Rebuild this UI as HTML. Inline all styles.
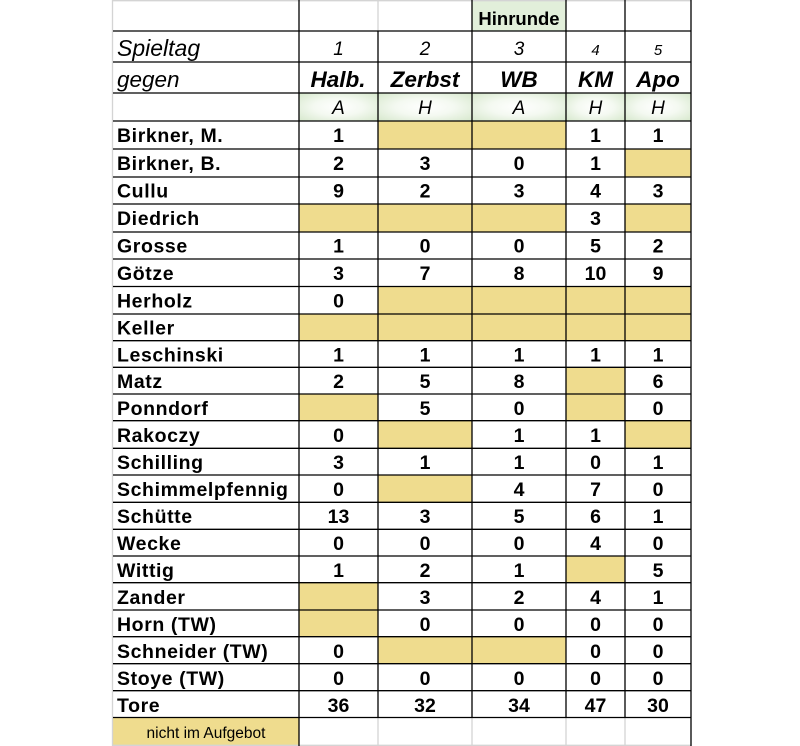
<!DOCTYPE html>
<html>
<head>
<meta charset="utf-8">
<style>
html,body{margin:0;padding:0;background:#fff;}
svg{display:block;}
text{font-family:"Liberation Sans",Arial,sans-serif;fill:#000;}
.b{font-weight:bold;font-size:19.5px;letter-spacing:0.6px;}
.n{font-weight:bold;font-size:19.5px;text-anchor:middle;}
</style>
</head>
<body>
<svg width="800" height="746" viewBox="0 0 800 746" xmlns="http://www.w3.org/2000/svg">
<defs>
<radialGradient id="g" cx="50%" cy="50%" r="70%">
<stop offset="0%" stop-color="#ffffff"/>
<stop offset="45%" stop-color="#f4f9f1"/>
<stop offset="100%" stop-color="#d6e8cc"/>
</radialGradient>
</defs>
<rect x="0" y="0" width="800" height="746" fill="#fff"/>
<!-- Hinrunde green -->
<rect x="472" y="1" width="94" height="30" fill="#e2efda"/>
<!-- A/H gradient cells -->
<rect x="299" y="93" width="79" height="28" fill="url(#g)"/>
<rect x="378" y="93" width="94" height="28" fill="url(#g)"/>
<rect x="472" y="93" width="94" height="28" fill="url(#g)"/>
<rect x="566" y="93" width="59" height="28" fill="url(#g)"/>
<rect x="625" y="93" width="66" height="28" fill="url(#g)"/>

<g fill="#efdc8e">
<!-- Birkner M row 121-149 -->
<rect x="378" y="121" width="188" height="28"/>
<!-- Birkner B row 149-177 -->
<rect x="625" y="149" width="66" height="28"/>
<!-- Diedrich 204-232 -->
<rect x="299" y="204" width="267" height="28"/>
<rect x="625" y="204" width="66" height="28"/>
<!-- Herholz 286.5-314 -->
<rect x="378" y="286.5" width="313" height="27.5"/>
<!-- Keller 314-340.7 -->
<rect x="299" y="314" width="392" height="26.7"/>
<!-- Matz 367.3-394 -->
<rect x="566" y="367.3" width="59" height="26.7"/>
<!-- Ponndorf 394-420.7 -->
<rect x="299" y="394" width="79" height="26.7"/>
<rect x="566" y="394" width="59" height="26.7"/>
<!-- Rakoczy 420.7-448.3 -->
<rect x="378" y="420.7" width="94" height="27.6"/>
<rect x="625" y="420.7" width="66" height="27.6"/>
<!-- Schimmelpfennig 475-502.3 -->
<rect x="378" y="475" width="94" height="27.3"/>
<!-- Wittig 556-582.7 -->
<rect x="566" y="556" width="59" height="26.7"/>
<!-- Zander 582.7-610 -->
<rect x="299" y="582.7" width="79" height="27.3"/>
<!-- Horn 610-636.7 -->
<rect x="299" y="610" width="79" height="26.7"/>
<!-- Schneider 636.7-663.7 -->
<rect x="378" y="636.7" width="188" height="27"/>
<!-- footer -->
<rect x="113" y="717.5" width="186" height="27.5"/>
</g>

<!-- light gridlines -->
<g stroke="#d4d4d4" stroke-width="1.3">
<line x1="112.5" y1="0" x2="112.5" y2="746"/>
<line x1="112" y1="0.7" x2="691" y2="0.7"/>
<line x1="112" y1="745.3" x2="691" y2="745.3"/>
<line x1="378" y1="0" x2="378" y2="31"/>
<line x1="378" y1="717.5" x2="378" y2="746"/>
<line x1="472" y1="717.5" x2="472" y2="746"/>
<line x1="566" y1="717.5" x2="566" y2="746"/>
<line x1="625" y1="717.5" x2="625" y2="746"/>
</g>

<!-- dark lines -->
<g stroke="#000" stroke-width="1.3">
<line x1="299" y1="0" x2="299" y2="746"/>
<line x1="378" y1="31" x2="378" y2="717.5"/>
<line x1="472" y1="0" x2="472" y2="717.5"/>
<line x1="566" y1="0" x2="566" y2="717.5"/>
<line x1="625" y1="0" x2="625" y2="717.5"/>
<line x1="691" y1="0" x2="691" y2="746"/>
<line x1="113" y1="31" x2="691" y2="31"/>
<line x1="113" y1="62" x2="691" y2="62"/>
<line x1="113" y1="93" x2="691" y2="93"/>
<line x1="113" y1="121" x2="691" y2="121"/>
<line x1="113" y1="149" x2="691" y2="149"/>
<line x1="113" y1="177" x2="691" y2="177"/>
<line x1="113" y1="204" x2="691" y2="204"/>
<line x1="113" y1="232" x2="691" y2="232"/>
<line x1="113" y1="259" x2="691" y2="259"/>
<line x1="113" y1="286.5" x2="691" y2="286.5"/>
<line x1="113" y1="314" x2="691" y2="314"/>
<line x1="113" y1="340.7" x2="691" y2="340.7"/>
<line x1="113" y1="367.3" x2="691" y2="367.3"/>
<line x1="113" y1="394" x2="691" y2="394"/>
<line x1="113" y1="420.7" x2="691" y2="420.7"/>
<line x1="113" y1="448.3" x2="691" y2="448.3"/>
<line x1="113" y1="475" x2="691" y2="475"/>
<line x1="113" y1="502.3" x2="691" y2="502.3"/>
<line x1="113" y1="529.3" x2="691" y2="529.3"/>
<line x1="113" y1="556" x2="691" y2="556"/>
<line x1="113" y1="582.7" x2="691" y2="582.7"/>
<line x1="113" y1="610" x2="691" y2="610"/>
<line x1="113" y1="636.7" x2="691" y2="636.7"/>
<line x1="113" y1="663.7" x2="691" y2="663.7"/>
<line x1="113" y1="690.7" x2="691" y2="690.7"/>
<line x1="113" y1="717.5" x2="691" y2="717.5"/>
</g>

<!-- header texts -->
<text x="519" y="25" font-weight="bold" font-size="18.5" text-anchor="middle">Hinrunde</text>

<text x="117" y="56" font-style="italic" font-size="23">Spieltag</text>
<g font-style="italic" font-size="19" text-anchor="middle">
<text x="338.5" y="55">1</text>
<text x="425" y="55">2</text>
<text x="519" y="55">3</text>
</g>
<g font-style="italic" font-size="15" text-anchor="middle">
<text x="595.5" y="55">4</text>
<text x="658" y="55">5</text>
</g>

<text x="117" y="87" font-style="italic" font-size="22.5">gegen</text>
<g font-style="italic" font-weight="bold" font-size="22.5" text-anchor="middle">
<text x="338" y="87">Halb.</text>
<text x="425" y="87">Zerbst</text>
<text x="519" y="87">WB</text>
<text x="595.5" y="87">KM</text>
<text x="658" y="87">Apo</text>
</g>

<g font-style="italic" font-size="19" text-anchor="middle">
<text x="338.5" y="114">A</text>
<text x="425" y="114">H</text>
<text x="519" y="114">A</text>
<text x="595.5" y="114">H</text>
<text x="658" y="114">H</text>
</g>

<!-- names -->
<g class="b">
<text x="117" y="142">Birkner, M.</text>
<text x="117" y="170">Birkner, B.</text>
<text x="117" y="197.5">Cullu</text>
<text x="117" y="225">Diedrich</text>
<text x="117" y="252.5">Grosse</text>
<text x="117" y="280">Götze</text>
<text x="117" y="307.5">Herholz</text>
<text x="117" y="334.5">Keller</text>
<text x="117" y="361.5">Leschinski</text>
<text x="117" y="388">Matz</text>
<text x="117" y="415">Ponndorf</text>
<text x="117" y="442">Rakoczy</text>
<text x="117" y="469">Schilling</text>
<text x="117" y="496">Schimmelpfennig</text>
<text x="117" y="523">Schütte</text>
<text x="117" y="550">Wecke</text>
<text x="117" y="577">Wittig</text>
<text x="117" y="604">Zander</text>
<text x="117" y="631">Horn (TW)</text>
<text x="117" y="658">Schneider (TW)</text>
<text x="117" y="685">Stoye (TW)</text>
<text x="117" y="712">Tore</text>
</g>

<!-- numbers -->
<g class="n">
<!-- Birkner M -->
<text x="338.5" y="142">1</text><text x="595.5" y="142">1</text><text x="658" y="142">1</text>
<!-- Birkner B -->
<text x="338.5" y="170">2</text><text x="425" y="170">3</text><text x="519" y="170">0</text><text x="595.5" y="170">1</text>
<!-- Cullu -->
<text x="338.5" y="197.5">9</text><text x="425" y="197.5">2</text><text x="519" y="197.5">3</text><text x="595.5" y="197.5">4</text><text x="658" y="197.5">3</text>
<!-- Diedrich -->
<text x="595.5" y="225">3</text>
<!-- Grosse -->
<text x="338.5" y="252.5">1</text><text x="425" y="252.5">0</text><text x="519" y="252.5">0</text><text x="595.5" y="252.5">5</text><text x="658" y="252.5">2</text>
<!-- Götze -->
<text x="338.5" y="280">3</text><text x="425" y="280">7</text><text x="519" y="280">8</text><text x="595.5" y="280">10</text><text x="658" y="280">9</text>
<!-- Herholz -->
<text x="338.5" y="307.5">0</text>
<!-- Leschinski -->
<text x="338.5" y="361.5">1</text><text x="425" y="361.5">1</text><text x="519" y="361.5">1</text><text x="595.5" y="361.5">1</text><text x="658" y="361.5">1</text>
<!-- Matz -->
<text x="338.5" y="388">2</text><text x="425" y="388">5</text><text x="519" y="388">8</text><text x="658" y="388">6</text>
<!-- Ponndorf -->
<text x="425" y="415">5</text><text x="519" y="415">0</text><text x="658" y="415">0</text>
<!-- Rakoczy -->
<text x="338.5" y="442">0</text><text x="519" y="442">1</text><text x="595.5" y="442">1</text>
<!-- Schilling -->
<text x="338.5" y="469">3</text><text x="425" y="469">1</text><text x="519" y="469">1</text><text x="595.5" y="469">0</text><text x="658" y="469">1</text>
<!-- Schimmelpfennig -->
<text x="338.5" y="496">0</text><text x="519" y="496">4</text><text x="595.5" y="496">7</text><text x="658" y="496">0</text>
<!-- Schütte -->
<text x="338.5" y="523">13</text><text x="425" y="523">3</text><text x="519" y="523">5</text><text x="595.5" y="523">6</text><text x="658" y="523">1</text>
<!-- Wecke -->
<text x="338.5" y="550">0</text><text x="425" y="550">0</text><text x="519" y="550">0</text><text x="595.5" y="550">4</text><text x="658" y="550">0</text>
<!-- Wittig -->
<text x="338.5" y="577">1</text><text x="425" y="577">2</text><text x="519" y="577">1</text><text x="658" y="577">5</text>
<!-- Zander -->
<text x="425" y="604">3</text><text x="519" y="604">2</text><text x="595.5" y="604">4</text><text x="658" y="604">1</text>
<!-- Horn -->
<text x="425" y="631">0</text><text x="519" y="631">0</text><text x="595.5" y="631">0</text><text x="658" y="631">0</text>
<!-- Schneider -->
<text x="338.5" y="658">0</text><text x="595.5" y="658">0</text><text x="658" y="658">0</text>
<!-- Stoye -->
<text x="338.5" y="685">0</text><text x="425" y="685">0</text><text x="519" y="685">0</text><text x="595.5" y="685">0</text><text x="658" y="685">0</text>
<!-- Tore -->
<text x="338.5" y="712">36</text><text x="425" y="712">32</text><text x="519" y="712">34</text><text x="595.5" y="712">47</text><text x="658" y="712">30</text>
</g>

<text x="206" y="738" font-size="15.5" text-anchor="middle">nicht im Aufgebot</text>
</svg>
</body>
</html>
